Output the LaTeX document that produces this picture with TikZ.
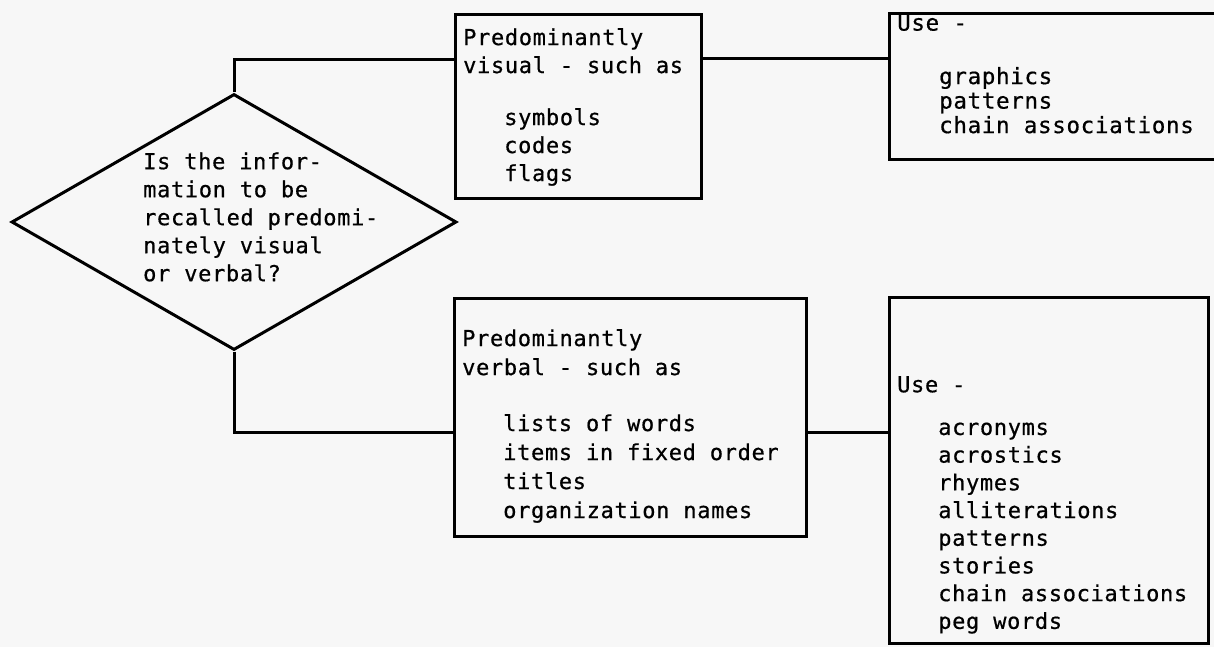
\documentclass[tikz,border=0pt]{standalone}
\usepackage{fontspec}
\newfontfamily\typefont[LetterSpace=3,FakeBold=0.6]{DejaVu Sans Mono}
\usetikzlibrary{positioning,shapes.geometric,calc}

% three character indent for the listed items
\newcommand{\ind}{\phantom{xxx}}

\begin{document}
\begin{tikzpicture}[
  x=1pt, y=-1pt,
  every node/.style={font=\typefont\fontsize{22}{28}\selectfont, align=left},
  frame/.style={draw, line width=3pt, inner sep=0pt, anchor=north west},
  txt/.style={inner sep=0pt, anchor=north west},
  ask/.style={diamond, draw, line width=3pt, inner sep=0pt,
              minimum width=445pt, minimum height=256pt},
  link/.style={line width=3pt}
]
\fill[black!3] (0,0) rectangle (1214,647);
\useasboundingbox (0,0) rectangle (1214,647);
% Decision diamond on the left
\node[ask] (query) at (234,222) {};
\node[txt, anchor=west] (querytext) at (143,217)
  {Is the infor-\\mation to be\\recalled predomi-\\nately visual\\or verbal?};
% Upper branch: visual material
\node[frame, minimum width=246pt, minimum height=184pt] (visbox) at (454,13) {};
\node[txt] (vistext) at ($(visbox.north west)+(9,15)$)
  {Predominantly\\visual - such as\\[24pt]\ind symbols\\\ind codes\\\ind flags};
\node[frame, minimum width=330pt, minimum height=146pt] (vismeth) at (888,12) {};
\node[txt, font=\typefont\fontsize{22.5}{24.5}\selectfont]
  (vismethtext) at ($(vismeth.north west)+(9,2)$)
  {Use -\\[29pt]\ind graphics\\\ind patterns\\\ind chain associations};
% Lower branch: verbal material
\node[frame, minimum width=352pt, minimum height=238pt] (verbox) at (453,297) {};
\node[txt, font=\typefont\fontsize{22}{29}\selectfont]
  (vertext) at ($(verbox.north west)+(9,32)$)
  {Predominantly\\verbal - such as\\[27pt]\ind lists of words\\\ind items in fixed order\\\ind titles\\\ind organization names};
\node[frame, minimum width=319pt, minimum height=346pt] (vermeth) at (888,296) {};
\node[txt, font=\typefont\fontsize{22}{27.7}\selectfont]
  (vermethtext) at ($(vermeth.north west)+(9,80)$)
  {Use -\\[15pt]\ind acronyms\\\ind acrostics\\\ind rhymes\\\ind alliterations\\\ind patterns\\\ind stories\\\ind chain associations\\\ind peg words};
% Connectors
\coordinate (visjoin) at ($(visbox.north east)+(0,46)$);
\coordinate (verjoin) at ($(verbox.north east)+(0,135)$);
\draw[link] (query.north) |- ($(visbox.north west)+(0,47)$);
\draw[link] (visjoin) -- (visjoin -| vismeth.west);
\draw[link] (query.south) |- ($(verbox.north west)+(0,135)$);
\draw[link] (verjoin) -- (verjoin -| vermeth.west);
\end{tikzpicture}
\end{document}
